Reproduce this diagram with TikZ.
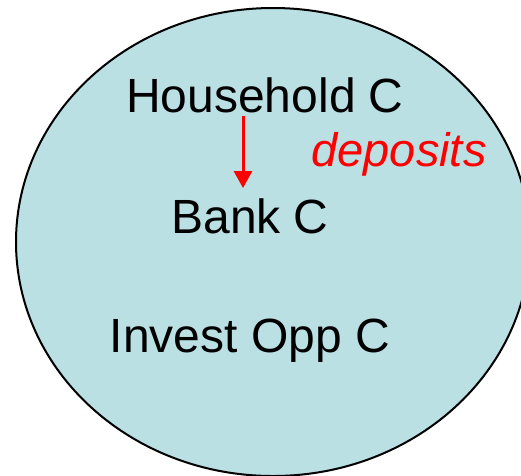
\documentclass[tikz,border=0pt]{standalone}
\usepackage{fontspec}
\setmainfont{Liberation Sans}
\usetikzlibrary{arrows.meta}
\definecolor{poolblue}{RGB}{186,224,228}
\begin{document}
\begin{tikzpicture}[
      x=1pt, y=-1pt,
      every node/.style={inner sep=0pt, anchor=base, font=\fontsize{48}{57}\selectfont},
      pool/.style={draw=black, line width=2pt, fill=poolblue},
      flow/.style={draw=red, line width=3pt, -{Triangle[length=17pt,width=18pt]}},
      note/.style={text=red, font=\fontsize{47}{56}\selectfont\itshape}
    ]
      \useasboundingbox (0,0) rectangle (521,475);
      \path[pool] (273,242) ellipse [x radius=257, y radius=234];
      \node (household) at (265,112) {Household C};
      \node (bank) at (250,233) {Bank C};
      \node (invest) at (250,352) {Invest Opp C};
      \node[note] (deposits) at (399,166) {deposits};
      \draw[flow, shorten <=3pt, shorten >=10pt]
        (household.south -| 243,0) -- (bank.north -| 243,0);
    \end{tikzpicture}
\end{document}
